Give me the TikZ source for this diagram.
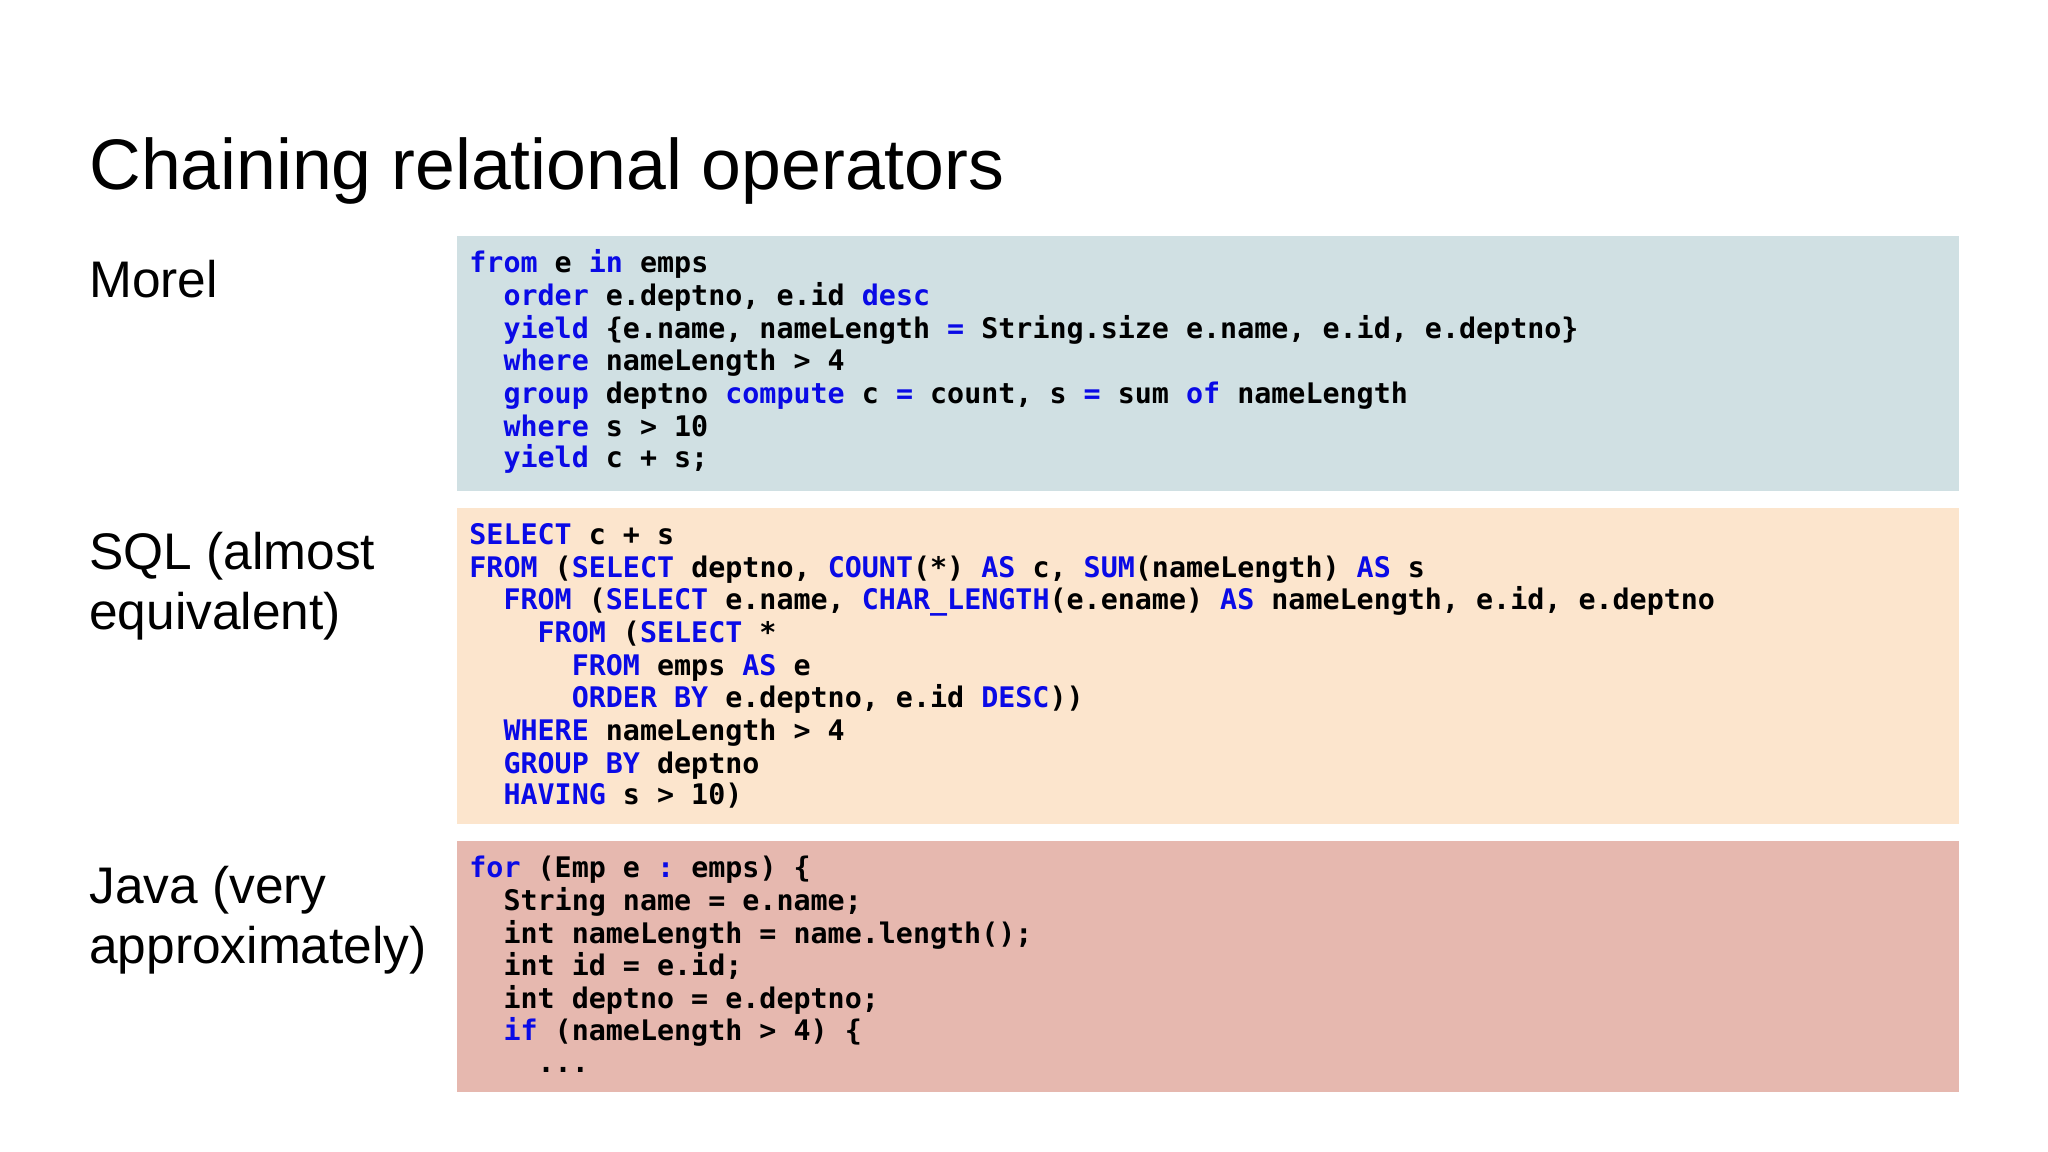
\documentclass[tikz,border=0pt]{standalone}
\usepackage{fontspec}
\setmainfont{Liberation Sans}
\setmonofont{DejaVu Sans Mono}
\definecolor{kwc}{HTML}{0A0AE6}
\definecolor{morelbg}{HTML}{D0E0E3}
\definecolor{sqlbg}{HTML}{FCE5CD}
\definecolor{javabg}{HTML}{E6B8AF}
\newcommand{\kw}[1]{\textcolor{kwc}{#1}}
\begin{document}
\begin{tikzpicture}[x=0.5pt,y=-0.5pt,
  cl/.style={anchor=base west,inner sep=0pt,font=\fontsize{10.85pt}{12pt}\ttfamily\bfseries},
  lab/.style={anchor=base west,inner sep=0pt,font=\fontsize{19.7pt}{24pt}\selectfont},
  box/.style={draw=none}]
\useasboundingbox[fill=white] (0,0) rectangle (1568,882);
\node[anchor=base west,inner sep=0pt,font=\fontsize{27.4pt}{32pt}\selectfont] (title) at (68,145) {Chaining relational operators};
\fill[morelbg] (350,181) rectangle (1500,376);
\fill[sqlbg] (350,389) rectangle (1500,631);
\fill[javabg] (350,644) rectangle (1500,836);
\node[lab] (morel) at (68,228) {Morel};
\node[lab] (sql1) at (68,436) {SQL (almost};
\node[lab] (sql2) at (68,482) {equivalent)};
\node[lab] (java1) at (68,692) {Java (very};
\node[lab] (java2) at (68,738) {approximately)};
\def\cw{13.06}
% Morel
\node[cl] (m1) at (359,209) {\kw{from} e \kw{in} emps};
\node[cl] (m2) at (359+2*\cw,234) {\kw{order} e.deptno, e.id \kw{desc}};
\node[cl] (m3) at (359+2*\cw,259) {\kw{yield} \{e.name, nameLength \kw{=} String.size e.name, e.id, e.deptno\}};
\node[cl] (m4) at (359+2*\cw,284) {\kw{where} nameLength > 4};
\node[cl] (m5) at (359+2*\cw,309) {\kw{group} deptno \kw{compute} c \kw{=} count, s \kw{=} sum \kw{of} nameLength};
\node[cl] (m6) at (359+2*\cw,334) {\kw{where} s > 10};
\node[cl] (m7) at (359+2*\cw,358) {\kw{yield} c + s;};
% SQL
\node[cl] (s1) at (359,417) {\kw{SELECT} c + s};
\node[cl] (s2) at (359,442) {\kw{FROM} (\kw{SELECT} deptno, \kw{COUNT}(*) \kw{AS} c, \kw{SUM}(nameLength) \kw{AS} s};
\node[cl] (s3) at (359+2*\cw,467) {\kw{FROM} (\kw{SELECT} e.name, \kw{CHAR\_LENGTH}(e.ename) \kw{AS} nameLength, e.id, e.deptno};
\node[cl] (s4) at (359+4*\cw,492) {\kw{FROM} (\kw{SELECT} *};
\node[cl] (s5) at (359+6*\cw,517) {\kw{FROM} emps \kw{AS} e};
\node[cl] (s6) at (359+6*\cw,542) {\kw{ORDER BY} e.deptno, e.id \kw{DESC}))};
\node[cl] (s7) at (359+2*\cw,567) {\kw{WHERE} nameLength > 4};
\node[cl] (s8) at (359+2*\cw,592) {\kw{GROUP BY} deptno};
\node[cl] (s9) at (359+2*\cw,616) {\kw{HAVING} s > 10)};
% Java
\node[cl] (j1) at (359,672) {\kw{for} (Emp e \kw{:} emps) \{};
\node[cl] (j2) at (359+2*\cw,697) {String name = e.name;};
\node[cl] (j3) at (359+2*\cw,722) {int nameLength = name.length();};
\node[cl] (j4) at (359+2*\cw,747) {int id = e.id;};
\node[cl] (j5) at (359+2*\cw,772) {int deptno = e.deptno;};
\node[cl] (j6) at (359+2*\cw,797) {\kw{if} (nameLength > 4) \{};
\node[cl] (j7) at (359+4*\cw,821) {...};
\end{tikzpicture}
\end{document}
